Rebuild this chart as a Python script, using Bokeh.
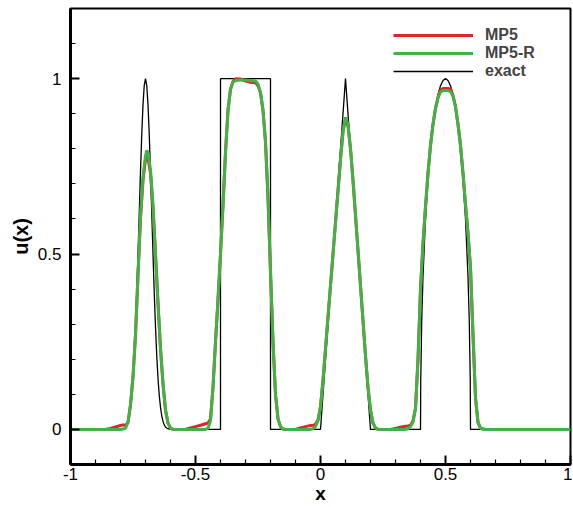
from bokeh.plotting import figure
from bokeh.models import FixedTicker, Legend, LegendItem
from bokeh.embed import file_html
from bokeh.resources import INLINE

# ---------------- data ----------------
# exact solution
exact_x = [-1.0, -0.8, -0.795, -0.79, -0.785, -0.78, -0.775, -0.77, -0.765, -0.76, -0.755,
           -0.75, -0.745, -0.74, -0.735, -0.73, -0.725, -0.72, -0.715, -0.71, -0.705,
           -0.70, -0.695, -0.69, -0.685, -0.68, -0.675, -0.67, -0.665, -0.66, -0.655,
           -0.65, -0.645, -0.64, -0.635, -0.63, -0.625, -0.62, -0.615, -0.61, -0.605, -0.6,
           -0.4, -0.4, -0.2, -0.2,
           0.0, 0.1, 0.2,
           0.4, 0.4, 0.401, 0.405, 0.41, 0.42, 0.43, 0.44, 0.45, 0.46, 0.47, 0.48, 0.49,
           0.50, 0.51, 0.52, 0.53, 0.54, 0.55, 0.56, 0.57, 0.58, 0.59, 0.595, 0.599, 0.6,
           1.0]
exact_u = [0.0, 0.0005, 0.001, 0.002, 0.004, 0.007, 0.013, 0.023, 0.039, 0.063, 0.097,
           0.146, 0.210, 0.292, 0.389, 0.500, 0.618, 0.735, 0.841, 0.926, 0.981,
           1.0, 0.981, 0.926, 0.841, 0.735, 0.618, 0.500, 0.389, 0.292, 0.210,
           0.146, 0.097, 0.063, 0.039, 0.023, 0.013, 0.007, 0.004, 0.002, 0.001, 0.0005,
           0.0, 1.0, 1.0, 0.0,
           0.0, 1.0, 0.0,
           0.0, 0.0, 0.141, 0.312, 0.436, 0.600, 0.714, 0.800, 0.866, 0.917, 0.954, 0.980, 0.995,
           1.0, 0.995, 0.980, 0.954, 0.917, 0.866, 0.800, 0.714, 0.600, 0.436, 0.312, 0.141, 0.0,
           0.0]

# numerical solutions (shared grid)
num_x = [-1.0, -0.86, -0.84, -0.82, -0.80, -0.79, -0.78, -0.77, -0.76, -0.75, -0.74, -0.73,
         -0.72, -0.71, -0.70, -0.695, -0.69, -0.68, -0.67, -0.66, -0.65, -0.64, -0.63, -0.62,
         -0.61, -0.60, -0.59,
         -0.54, -0.52, -0.50, -0.48, -0.46, -0.45, -0.44, -0.43, -0.42, -0.41, -0.40, -0.39,
         -0.38, -0.37, -0.36, -0.35, -0.34, -0.32, -0.30, -0.28, -0.26, -0.25, -0.24, -0.23,
         -0.22, -0.21, -0.20, -0.19, -0.18, -0.17, -0.16, -0.15, -0.14,
         -0.10, -0.08, -0.06, -0.04, -0.03, -0.02, -0.01, 0.00, 0.01, 0.02, 0.03, 0.04, 0.05,
         0.06, 0.07, 0.08, 0.09, 0.10, 0.11, 0.12, 0.13, 0.14, 0.15, 0.16, 0.17, 0.18, 0.19,
         0.20, 0.21, 0.22, 0.23,
         0.28, 0.30, 0.32, 0.34, 0.35, 0.36, 0.37, 0.38, 0.39, 0.40, 0.41, 0.42, 0.43, 0.44,
         0.45, 0.46, 0.47, 0.48, 0.49, 0.50, 0.51, 0.52, 0.53, 0.54, 0.55, 0.56, 0.57, 0.58,
         0.59, 0.60, 0.61, 0.62, 0.63, 0.64, 0.65, 0.66, 1.0]

mp5r_u = [0.0, 0.0, 0.0, 0.0, 0.0, 0.001, 0.004, 0.02, 0.07, 0.15, 0.27, 0.44,
          0.61, 0.72, 0.78, 0.795, 0.79, 0.74, 0.64, 0.50, 0.36, 0.23, 0.13, 0.055,
          0.018, 0.004, 0.0,
          0.0, 0.0, 0.0, 0.0, 0.0, 0.003, 0.025, 0.12, 0.25, 0.37, 0.50, 0.64,
          0.79, 0.91, 0.97, 0.99, 0.995, 0.996, 0.996, 0.995, 0.993, 0.985, 0.96, 0.91,
          0.82, 0.66, 0.45, 0.25, 0.10, 0.03, 0.008, 0.001, 0.0,
          0.0, 0.0, 0.0, 0.0, 0.002, 0.008, 0.025, 0.065, 0.14, 0.23, 0.32, 0.41, 0.50,
          0.59, 0.68, 0.77, 0.85, 0.89, 0.87, 0.80, 0.71, 0.61, 0.51, 0.41, 0.31, 0.21, 0.12,
          0.055, 0.018, 0.004, 0.0,
          0.0, 0.0, 0.0, 0.0, 0.002, 0.008, 0.022, 0.06, 0.20, 0.40, 0.53, 0.635, 0.73, 0.81,
          0.87, 0.915, 0.945, 0.962, 0.966, 0.966, 0.966, 0.963, 0.95, 0.92, 0.87, 0.81, 0.73, 0.64,
          0.56, 0.46, 0.27, 0.09, 0.02, 0.004, 0.001, 0.0, 0.0]

mp5_u = [0.0, 0.0, 0.003, 0.007, 0.011, 0.013, 0.012, 0.02, 0.07, 0.15, 0.27, 0.44,
         0.60, 0.71, 0.77, 0.78, 0.775, 0.73, 0.63, 0.50, 0.36, 0.23, 0.13, 0.055,
         0.018, 0.004, 0.0,
         0.0, 0.004, 0.008, 0.012, 0.016, 0.018, 0.03, 0.12, 0.25, 0.37, 0.50, 0.64,
         0.79, 0.91, 0.97, 0.992, 1.0, 0.999, 0.993, 0.99, 0.988, 0.98, 0.96, 0.91,
         0.82, 0.66, 0.45, 0.25, 0.10, 0.03, 0.008, 0.001, 0.0,
         0.0, 0.004, 0.008, 0.011, 0.012, 0.014, 0.027, 0.065, 0.14, 0.23, 0.32, 0.41, 0.50,
         0.59, 0.68, 0.77, 0.85, 0.885, 0.865, 0.80, 0.71, 0.61, 0.51, 0.41, 0.31, 0.21, 0.12,
         0.055, 0.018, 0.004, 0.0,
         0.0, 0.003, 0.006, 0.009, 0.010, 0.012, 0.024, 0.06, 0.20, 0.40, 0.53, 0.635, 0.73, 0.81,
         0.87, 0.915, 0.947, 0.968, 0.972, 0.972, 0.972, 0.970, 0.952, 0.92, 0.87, 0.81, 0.73, 0.64,
         0.56, 0.46, 0.27, 0.09, 0.02, 0.004, 0.001, 0.0, 0.0]

x_major = [-1.0, -0.5, 0.0, 0.5, 1.0]
x_minor = [-0.9, -0.8, -0.7, -0.6, -0.4, -0.3, -0.2, -0.1, 0.1, 0.2, 0.3, 0.4, 0.6, 0.7, 0.8, 0.9]
y_major = [0.0, 0.5, 1.0]
y_minor = [-0.1, 0.1, 0.2, 0.3, 0.4, 0.6, 0.7, 0.8, 0.9, 1.1, 1.2]
y_labels = {0.0: "0", 0.5: "0.5", 1.0: "1"}
x_labels = {-1.0: "-1", -0.5: "-0.5", 0.0: "0", 0.5: "0.5", 1.0: "1"}

RED = "#e2232a"
GREEN = "#3db544"
FONT = "Liberation Sans"

# ---------------- figure ----------------
p = figure(width=572, height=506, x_range=(-1, 1), y_range=(-0.1, 1.2),
           output_backend="svg", toolbar_location=None,
           min_border_left=70, min_border_right=2, min_border_top=8, min_border_bottom=41)

p.xgrid.visible = False
p.ygrid.visible = False
p.outline_line_color = "black"
p.outline_line_width = 2
p.background_fill_color = "white"

r_exact = p.line(exact_x, exact_u, line_color="black", line_width=1.3)
r_mp5 = p.line(num_x, mp5_u, line_color=RED, line_width=3)
r_mp5r = p.line(num_x, mp5r_u, line_color=GREEN, line_width=3)

for ax, maj, mnr, labs in ((p.xaxis[0], x_major, x_minor, x_labels),
                            (p.yaxis[0], y_major, y_minor, y_labels)):
    ax.ticker = FixedTicker(ticks=maj, minor_ticks=mnr)
    ax.major_label_overrides = labs
    ax.axis_line_width = 3
    ax.axis_line_color = "black"
    ax.major_tick_in = 9
    ax.major_tick_out = 0
    ax.major_tick_line_width = 2
    ax.minor_tick_in = 5
    ax.minor_tick_out = 0
    ax.minor_tick_line_width = 1.2
    ax.major_label_text_font = FONT
    ax.major_label_text_font_size = "17px"
    ax.major_label_text_color = "black"
    ax.axis_label_text_font = FONT
    ax.axis_label_text_font_style = "bold"
    ax.axis_label_text_color = "black"

p.xaxis.major_label_standoff = 3
p.xaxis.axis_label = "x"
p.xaxis.axis_label_text_font_size = "19px"
p.xaxis.axis_label_standoff = 0

p.yaxis.major_label_standoff = 9
p.yaxis.axis_label = "u(x)"
p.yaxis.axis_label_text_font_size = "20px"
p.yaxis.axis_label_standoff = 3

# one legend per row so that rows sit at the reference spacing
legend_rows = [("MP5", r_mp5, 420), ("MP5-R", r_mp5r, 402), ("exact", r_exact, 384)]
for lab, rend, vy in legend_rows:
    lg = Legend(items=[LegendItem(label=lab, renderers=[rend])],
                location=(323, vy), glyph_width=80, glyph_height=16, label_height=16,
                label_standoff=12, spacing=0, padding=0, margin=0,
                border_line_alpha=0, background_fill_alpha=0,
                label_text_font=FONT, label_text_font_style="bold",
                label_text_font_size="16px")
    p.add_layout(lg)

open("out.html", "w").write(file_html(p, INLINE))
